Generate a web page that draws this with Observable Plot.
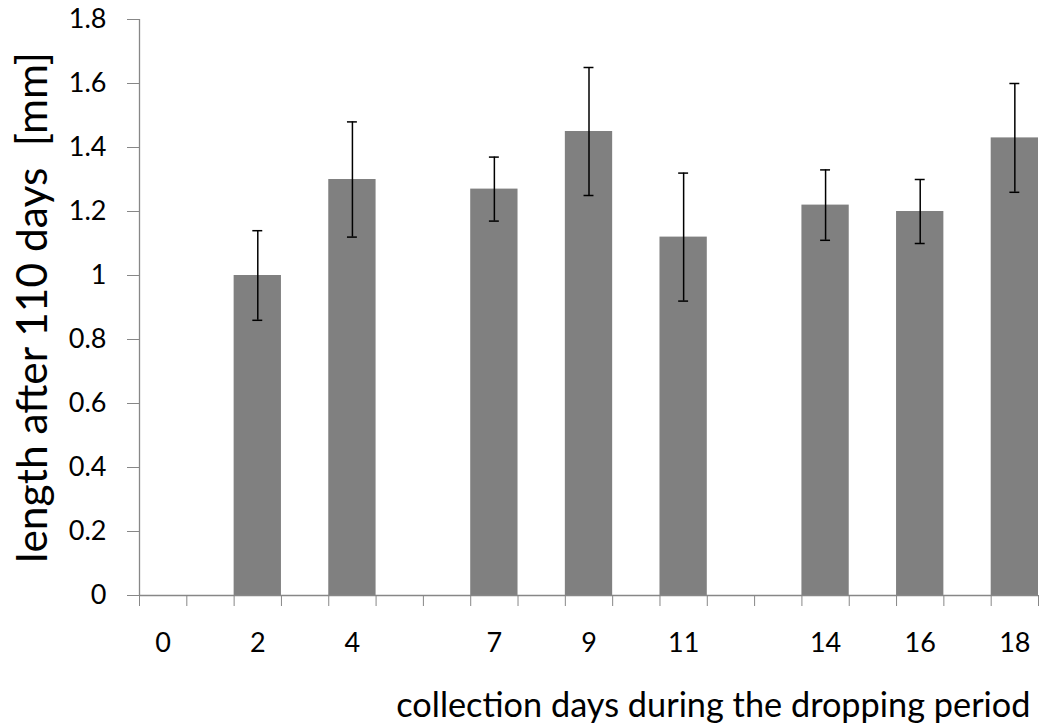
<!DOCTYPE html>
<html>
<head>
<meta charset="utf-8">
<script src="https://cdn.jsdelivr.net/npm/d3@7"></script>
<script src="https://cdn.jsdelivr.net/npm/@observablehq/plot@0.6"></script>
<style>
  html, body { margin: 0; padding: 0; background: #fff; }
  #chart svg { display: block; }
</style>
</head>
<body>
<div id="chart"></div>
<script>
// Data
const labelDays = [0, 2, 4, 7, 9, 11, 14, 16, 18];          // labelled collection days
const barDays   = [2, 4, 7, 9, 11, 14, 16, 18];             // days with a bar
const means     = [1.00, 1.30, 1.27, 1.45, 1.12, 1.22, 1.20, 1.43];
const errors    = [0.14, 0.18, 0.10, 0.20, 0.20, 0.11, 0.10, 0.17];
const yTicks    = [0, 0.2, 0.4, 0.6, 0.8, 1, 1.2, 1.4, 1.6, 1.8];
const dayRange  = [0, 18];
const xTitle = "collection days during the dropping period";
const yTitle = "length after 110 days\u00a0 [mm]";

const rows = barDays.map((day, i) => ({day, mean: means[i], err: errors[i]}));
const slotEdges = d3.range(dayRange[0] - 0.5, dayRange[1] + 1, 1);
const capHalf = 0.105;
const axisColor = "#878787";

const chart = Plot.plot({
  width: 1039,
  height: 728,
  marginLeft: 139,
  marginRight: 1,
  marginTop: 19,
  marginBottom: 133,
  style: {fontFamily: "Lato, 'DejaVu Sans', sans-serif", fontSize: "27px", color: "#000", background: "#fff"},
  x: {domain: [dayRange[0] - 0.5, dayRange[1] + 0.5]},
  y: {domain: [0, 1.8]},
  marks: [
    Plot.rectY(rows, {x1: d => d.day - 0.5, x2: d => d.day + 0.5, y: "mean", fill: "#808080"}),
    Plot.ruleX(rows, {x: "day", y1: d => d.mean - d.err, y2: d => d.mean + d.err, stroke: "#000", strokeWidth: 1.5}),
    Plot.ruleY(rows, {y: d => d.mean + d.err, x1: d => d.day - capHalf, x2: d => d.day + capHalf, stroke: "#000", strokeWidth: 1.5}),
    Plot.ruleY(rows, {y: d => d.mean - d.err, x1: d => d.day - capHalf, x2: d => d.day + capHalf, stroke: "#000", strokeWidth: 1.5}),
    // axis lines
    Plot.ruleY([0], {stroke: axisColor, strokeWidth: 1.3}),
    Plot.ruleX([dayRange[0] - 0.5], {y1: 0, y2: 1.8, stroke: axisColor, strokeWidth: 1.3}),
    // y axis
    Plot.axisY({ticks: yTicks, tickSize: 12, tickPadding: 21, stroke: axisColor, tickFormat: d => String(+d.toFixed(1)), label: null, fill: "#000", fontSize: 27}),
    // x axis tick marks at slot boundaries
    Plot.axisX({ticks: slotEdges, tickSize: 11, tickFormat: () => "", stroke: axisColor, label: null}),
    // x axis labels at slot centres
    Plot.axisX({ticks: labelDays, tickSize: 0, tickPadding: 37, tickFormat: d => String(d), label: null, fill: "#000", fontSize: 27}),
    // titles
    Plot.text([yTitle], {frameAnchor: "left", textAnchor: "middle", rotate: -90, dx: -106, fontSize: 42.5, fill: "#000"}),
    Plot.text([xTitle], {frameAnchor: "bottom-right", textAnchor: "end", dx: -8, dy: 121, fontSize: 34.3, fill: "#000"})
  ]
});
document.getElementById("chart").appendChild(chart);
</script>
</body>
</html>
